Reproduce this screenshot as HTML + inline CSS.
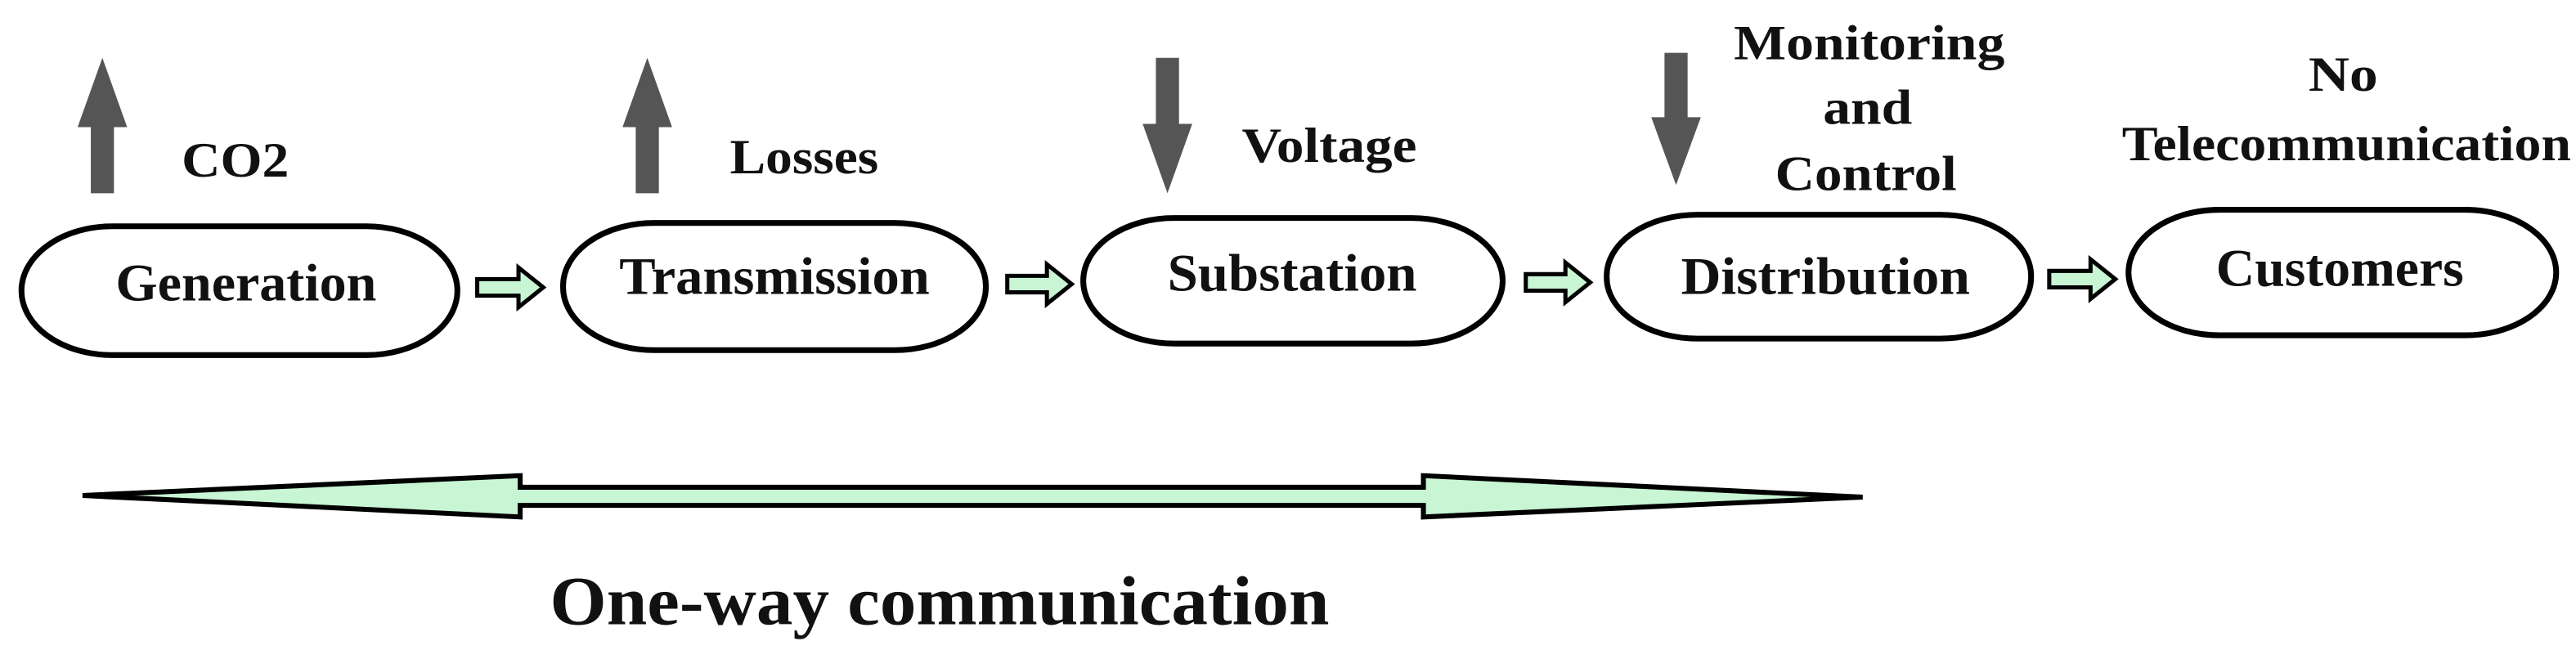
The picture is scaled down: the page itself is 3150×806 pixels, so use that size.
<!DOCTYPE html>
<html><head><meta charset="utf-8"><style>
html,body{margin:0;padding:0;background:#fff;width:3150px;height:806px;overflow:hidden}
svg{display:block}
text{font-family:"Liberation Serif",serif;font-weight:bold;fill:#111}
</style></head><body>
<svg width="3150" height="806" viewBox="0 0 1560 399" preserveAspectRatio="none" xmlns="http://www.w3.org/2000/svg">
<g fill="#555">
<polygon points="55,117 69,117 69,77 77,77 62,35 47,77 55,77"/>
<polygon points="385,117 399,117 399,77 407,77 392,35 377,77 385,77"/>
<polygon points="700,35 714,35 714,75 722,75 707,117 692,75 700,75"/>
<polygon points="1008,32 1022,32 1022,71 1030,71 1015,112 1000,71 1008,71"/>
</g>
<g font-size="30">
<text x="110" y="107" textLength="65" lengthAdjust="spacingAndGlyphs">CO2</text>
<text x="442" y="105" textLength="90" lengthAdjust="spacingAndGlyphs">Losses</text>
<text x="752" y="98" textLength="106" lengthAdjust="spacingAndGlyphs">Voltage</text>
<text x="1050" y="36" textLength="164" lengthAdjust="spacingAndGlyphs">Monitoring</text>
<text x="1104" y="75" textLength="54" lengthAdjust="spacingAndGlyphs">and</text>
<text x="1075" y="115" textLength="110" lengthAdjust="spacingAndGlyphs">Control</text>
<text x="1398" y="55" textLength="42" lengthAdjust="spacingAndGlyphs">No</text>
<text x="1285" y="97" textLength="272" lengthAdjust="spacingAndGlyphs">Telecommunication</text>
</g>
<g fill="#fff" stroke="#000" stroke-width="3.5">
<rect x="13" y="137" width="264" height="78" rx="55" ry="39"/>
<rect x="341" y="135" width="256" height="77" rx="55" ry="38"/>
<rect x="656" y="132" width="254" height="76" rx="55" ry="38"/>
<rect x="973" y="130" width="257" height="75" rx="55" ry="37"/>
<rect x="1289" y="127" width="259" height="76" rx="55" ry="38"/>
</g>
<g font-size="32">
<text x="70" y="182" textLength="158" lengthAdjust="spacingAndGlyphs">Generation</text>
<text x="375" y="178" textLength="188" lengthAdjust="spacingAndGlyphs">Transmission</text>
<text x="707" y="176" textLength="151" lengthAdjust="spacingAndGlyphs">Substation</text>
<text x="1018" y="178" textLength="175" lengthAdjust="spacingAndGlyphs">Distribution</text>
<text x="1342" y="173" textLength="150" lengthAdjust="spacingAndGlyphs">Customers</text>
</g>
<g fill="#c8f5d4" stroke="#000" stroke-width="2.5">
<polygon points="289,169 314,169 314,162 329,174 314,186 314,179 289,179"/>
<polygon points="610,167 634,167 634,160 649,172 634,184 634,177 610,177"/>
<polygon points="924,166 948,166 948,159 963,171 948,183 948,176 924,176"/>
<polygon points="1241,164 1266,164 1266,157 1281,169 1266,181 1266,174 1241,174"/>
<polygon points="50,300 315,288 315,295 862,295 862,288 1128,301 862,313 862,306 315,306 315,313" stroke-width="3"/>
</g>
<text x="333" y="378" font-size="42" textLength="472" lengthAdjust="spacingAndGlyphs">One-way communication</text>
</svg>
</body></html>
